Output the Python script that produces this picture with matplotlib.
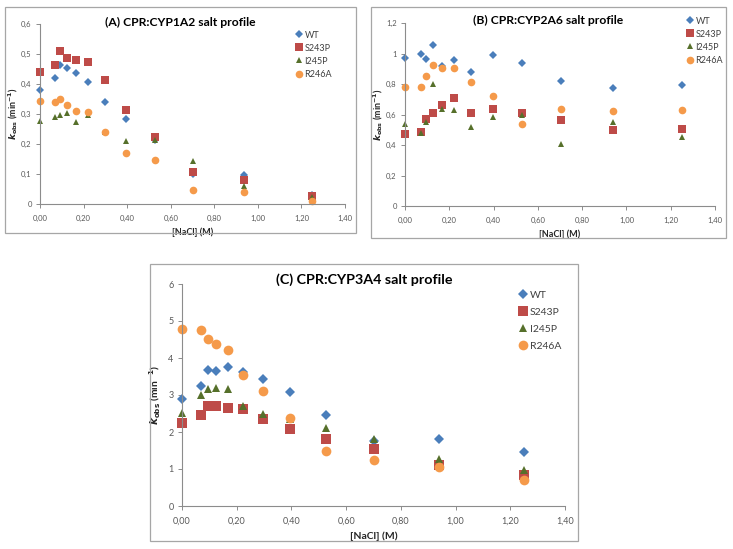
import matplotlib
matplotlib.use('Agg')
import matplotlib.pyplot as plt
from matplotlib.patches import Rectangle
from matplotlib.ticker import FuncFormatter

plt.rcParams['font.family'] = ['Lato', 'DejaVu Sans']
plt.rcParams['mathtext.fontset'] = 'dejavusans'

# NaCl concentrations (M), shared by all panels
nacl = [0.0, 0.070, 0.094, 0.125, 0.167, 0.222, 0.297, 0.396, 0.527, 0.703, 0.938, 1.25]

# (A) CPR:CYP1A2, kobs (min-1)
a_wt = [0.381, 0.420, 0.462, 0.453, 0.436, 0.406, 0.341, 0.283, 0.213, 0.099, 0.098, 0.031]
a_s243p = [0.439, 0.463, 0.511, 0.487, 0.480, 0.472, 0.413, 0.314, 0.224, 0.108, 0.079, 0.026]
a_i245p = [0.276, 0.289, 0.297, 0.303, 0.273, 0.296, 0.240, 0.210, 0.215, 0.143, 0.061, 0.025]
a_r246a = [0.342, 0.339, 0.349, 0.330, 0.310, 0.307, 0.240, 0.169, 0.147, 0.046, 0.041, 0.011]

# (B) CPR:CYP2A6
b_wt = [0.971, 0.995, 0.962, 1.054, 0.916, 0.960, 0.877, 0.988, 0.938, 0.820, 0.775, 0.792]
b_s243p = [0.469, 0.482, 0.570, 0.607, 0.661, 0.707, 0.609, 0.635, 0.609, 0.561, 0.497, 0.504]
b_i245p = [0.537, 0.480, 0.554, 0.800, 0.637, 0.631, 0.519, 0.585, 0.598, 0.406, 0.550, 0.453]
b_r246a = [0.779, 0.779, 0.855, 0.925, 0.905, 0.908, 0.810, 0.720, 0.539, 0.635, 0.620, 0.631]

# (C) CPR:CYP3A4
c_wt = [2.90, 3.25, 3.68, 3.66, 3.76, 3.63, 3.44, 3.07, 2.47, 1.75, 1.82, 1.45]
c_s243p = [2.25, 2.47, 2.69, 2.69, 2.65, 2.62, 2.36, 2.08, 1.80, 1.54, 1.12, 0.83]
c_i245p = [2.52, 3.00, 3.17, 3.20, 3.15, 2.71, 2.49, 2.34, 2.11, 1.80, 1.28, 0.96]
c_r246a = [4.78, 4.76, 4.51, 4.39, 4.21, 3.54, 3.12, 2.38, 1.49, 1.23, 1.05, 0.69]

labels = ['WT', 'S243P', 'I245P', 'R246A']
colors = ['#4A7EBB', '#BE4B48', '#56702B', '#F59A4A']
markers = ['D', 's', '^', 'o']

W, H = 733, 549
fig = plt.figure(figsize=(W / 100, H / 100), dpi=100)


def px_rect(x0, y0, x1, y1):
    # pixel box (top-left origin) -> figure fraction [left, bottom, width, height]
    return [x0 / W, 1 - y1 / H, (x1 - x0) / W, (y1 - y0) / H]


def comma_fmt(nd):
    def f(v, pos):
        if abs(v) < 1e-9:
            return '0' if nd is None else '0,00'
        if nd is None:
            s = ('%g' % round(v, 2))
        else:
            s = ('%.' + str(nd) + 'f') % v
        return s.replace('.', ',')
    return FuncFormatter(f)


def panel(frame, axbox, title, series, ymax, ystep, sizes, fs, leg_anchor, leg_sp):
    fx0, fy0, fx1, fy1 = frame
    fig.patches.append(Rectangle((fx0 / W, 1 - fy1 / H), (fx1 - fx0) / W, (fy1 - fy0) / H,
                                 transform=fig.transFigure, fill=False,
                                 edgecolor='#A6A6A6', linewidth=0.9))
    ax = fig.add_axes(px_rect(*axbox))
    for ys, lab, c, m, s in zip(series, labels, colors, markers, sizes):
        ax.plot(nacl, ys, linestyle='none', marker=m, color=c, markersize=s,
                markeredgewidth=0, label=lab, clip_on=False)
    ax.set_xlim(0, 1.4)
    ax.set_ylim(0, ymax)
    ax.set_xticks([i * 0.2 for i in range(8)])
    ax.set_yticks([i * ystep for i in range(int(round(ymax / ystep)) + 1)])
    ax.xaxis.set_major_formatter(comma_fmt(2))
    ax.yaxis.set_major_formatter(comma_fmt(None))
    for side in ['top', 'right']:
        ax.spines[side].set_visible(False)
    for side in ['left', 'bottom']:
        ax.spines[side].set_color('#8C8C8C')
        ax.spines[side].set_linewidth(0.8)
    ax.tick_params(axis='both', colors='#8C8C8C', labelcolor='#595959',
                   labelsize=fs['tick'], length=3, width=0.7, direction='out', pad=3)
    ax.tick_params(axis='x', pad=5)
    ax.set_xlabel('[NaCl] (M)', fontsize=fs['label'], fontweight='bold', color='#262626', labelpad=4)
    ax.set_ylabel(r'$\mathbfit{k}_{\mathbf{obs}}$ (min$^{\mathbf{-1}}$)', fontsize=fs['label'],
                  fontweight='bold', color='#262626', labelpad=fs['ylpad'])
    fig.text((fx0 + fx1) / 2 / W, 1 - fs['title_y'] / H, title, ha='center', va='center',
             fontsize=fs['title'], fontweight='bold', color='black')
    ax.legend(loc='upper left', bbox_to_anchor=(leg_anchor[0] / W, 1 - leg_anchor[1] / H),
              bbox_transform=fig.transFigure, frameon=False, fontsize=fs['legend'],
              handletextpad=0.1, handlelength=1.0, labelspacing=leg_sp, borderpad=0,
              labelcolor='#404040')
    return ax


panel((5, 7, 356, 233), (40, 24, 345, 204), '(A) CPR:CYP1A2 salt profile',
      [a_wt, a_s243p, a_i245p, a_r246a], 0.6, 0.1, [3.8, 5.2, 4, 5.5],
      {'tick': 5.5, 'label': 6.5, 'title': 8.7, 'title_y': 22, 'legend': 6.5, 'ylpad': 1},
      (290, 26), 0.45)

panel((371, 7, 726, 238), (405, 23, 715, 206), '(B) CPR:CYP2A6 salt profile',
      [b_wt, b_s243p, b_i245p, b_r246a], 1.2, 0.2, [3.8, 5.2, 4, 5.5],
      {'tick': 5.5, 'label': 6.5, 'title': 8.7, 'title_y': 20, 'legend': 6.5, 'ylpad': 1},
      (681, 12), 0.45)

panel((150, 264, 578, 541), (182, 284, 565, 506), '(C) CPR:CYP3A4 salt profile',
      [c_wt, c_s243p, c_i245p, c_r246a], 6, 1, [5, 6.5, 5.8, 7],
      {'tick': 6.5, 'label': 7.5, 'title': 10.3, 'title_y': 280, 'legend': 7.5, 'ylpad': 4},
      (513, 285), 0.75)

fig.savefig('out.png', dpi=100)
